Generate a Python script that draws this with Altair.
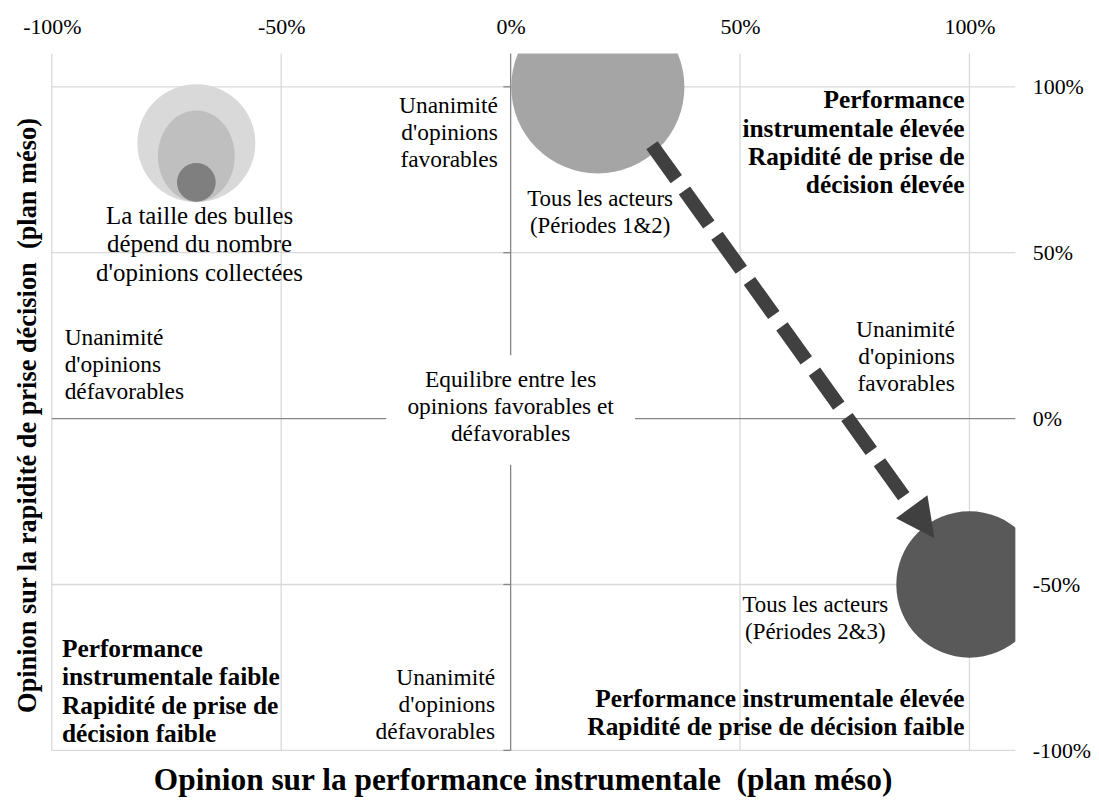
import math
import altair as alt
import pandas as pd

FONT = "Liberation Serif"

# ---------------- data ----------------
axis_ticks = [-100, -50, 0, 50, 100]
grid_values = [-100, -50, 50, 100]
axis_domain = [-100, 110]

bubble_names = ["Tous les acteurs (Périodes 1&2)", "Tous les acteurs (Périodes 2&3)"]
bubble_x = [19, 100]
bubble_y = [100, -50]
bubble_opinions = [140, 100]
bubble_colors = ["#a5a5a5", "#595959"]

legend_x = [-68.5, -68.5, -68.5]
legend_y = [83.0, 79.1, 71.2]
legend_opinions = [65, 39, 7]
legend_colors = ["#d9d9d9", "#bfbfbf", "#7f7f7f"]

zero_v_y = [110, -13.9]
zero_v_y2 = [19.1, -100]
zero_h_x = [-100, 27.1]
zero_h_x2 = [-27.1, 110]
zero_tick_y = [100, 50, -50, -100]

arrow_x = [30.8]
arrow_y = [82.4]
arrow_x2 = [87.3]
arrow_y2 = [-26.5]
arrow_head_x = [89.9]
arrow_head_y = [-31.3]

note_text = [
    "Unanimité\nd'opinions\nfavorables",
    "Tous les acteurs\n(Périodes 1&2)",
    "Unanimité\nd'opinions\ndéfavorables",
    "Equilibre entre les\nopinions favorables et\ndéfavorables",
    "Unanimité\nd'opinions\nfavorables",
    "Tous les acteurs\n(Périodes 2&3)",
    "Unanimité\nd'opinions\ndéfavorables",
    "La taille des bulles\ndépend du nombre\nd'opinions collectées",
    "Performance\ninstrumentale élevée\nRapidité de prise de\ndécision élevée",
    "Performance instrumentale élevée\nRapidité de prise de décision faible",
    "Performance\ninstrumentale faible\nRapidité de prise de\ndécision faible",
]
note_x = [-2.8, 19.5, -97.2, 0, 96.8, 66.4, -3.4, -67.8, 98.9, 98.9, -97.8]
note_y = [97.8, 69.5, 27.8, 15.2, 30.2, -52.9, -74.7, 64.7, 99.5, -80.8, -65.8]
note_align = ["right", "center", "left", "center", "right", "center", "right",
              "center", "right", "right", "left"]
note_style = ["regular", "small", "regular", "regular", "regular", "small", "regular",
              "caption", "bold", "bold", "bold"]

x_title = "Opinion sur la performance instrumentale\u00a0 (plan méso)"
y_title = "Opinion sur la rapidité de prise décision\u00a0 (plan méso)"

# ---------------- styles ----------------
styles = {
    "regular": dict(fontSize=23.5, fontWeight="normal", lineHeight=27),
    "small": dict(fontSize=23, fontWeight="normal", lineHeight=27),
    "caption": dict(fontSize=25, fontWeight="normal", lineHeight=28.5),
    "bold": dict(fontSize=25.5, fontWeight="bold", lineHeight=28.5),
}

pts = []
for i in range(60):
    t = 2 * math.pi * i / 60
    pts.append(f"{0.84 * math.sin(t):.4f},{-math.cos(t):.4f}")
ellipse_path = "M" + "L".join(pts) + "Z"
legend_shapes = ["circle", ellipse_path, "circle"]

xs = alt.Scale(domain=axis_domain, nice=False, zero=False)
ys = alt.Scale(domain=axis_domain, nice=False, zero=False)
size_scale = alt.Scale(type="linear", domain=[0, 140], range=[0, 30276], zero=True)

GRID = "#d9d9d9"
ZERO = "#868686"


def X(field, **kw):
    return alt.X(field, type="quantitative", scale=xs, axis=None, **kw)


def Y(field, **kw):
    return alt.Y(field, type="quantitative", scale=ys, axis=None, **kw)


# grid (with tick label axes)
grid_x = alt.Chart(pd.DataFrame({"x": grid_values})).mark_rule(
    color=GRID, strokeWidth=1.3
).encode(
    x=alt.X("x:Q", scale=xs, axis=alt.Axis(
        orient="top", values=axis_ticks, labelExpr="datum.value + '%'",
        grid=False, ticks=False, tickSize=0, domain=False, title=None,
        labelFont=FONT, labelFontSize=22, labelColor="black", labelPadding=15,
        labelFlush=False, labelOverlap=False)),
)
grid_y = alt.Chart(pd.DataFrame({"y": grid_values})).mark_rule(
    color=GRID, strokeWidth=1.3
).encode(
    y=alt.Y("y:Q", scale=ys, axis=alt.Axis(
        orient="right", values=axis_ticks, labelExpr="datum.value + '%'",
        grid=False, ticks=False, tickSize=0, domain=False, title=None,
        labelFont=FONT, labelFontSize=22, labelColor="black", labelPadding=17,
        labelAlign="left", labelFlush=False, labelOverlap=False)),
)

# zero lines (carry axis titles)
zero_v = alt.Chart(pd.DataFrame({"x": [0, 0], "y": zero_v_y, "y2": zero_v_y2})).mark_rule(
    color=ZERO, strokeWidth=1.3
).encode(
    x=alt.X("x:Q", scale=xs, axis=alt.Axis(
        orient="bottom", labels=False, ticks=False, domain=False, grid=False,
        title=x_title, titleFont=FONT, titleFontSize=31.5, titleFontWeight="bold",
        titleColor="black", titleX=473, titleY=39, titleBaseline="alphabetic",
        titleAlign="center")),
    y=Y("y"), y2="y2",
)
zero_h = alt.Chart(pd.DataFrame({"y": [0, 0], "x": zero_h_x, "x2": zero_h_x2})).mark_rule(
    color=ZERO, strokeWidth=1.3
).encode(
    y=alt.Y("y:Q", scale=ys, axis=alt.Axis(
        orient="left", labels=False, ticks=False, domain=False, grid=False,
        title=y_title, titleFont=FONT, titleFontSize=26.5, titleFontWeight="bold",
        titleColor="black", titleX=-16, titleY=363, titleAngle=270,
        titleBaseline="alphabetic", titleAlign="center")),
    x=X("x"), x2="x2",
)
zero_ticks = alt.Chart(pd.DataFrame({"y": zero_tick_y, "x": [-1.6] * 4, "x2": [0] * 4})).mark_rule(
    color=ZERO, strokeWidth=1.3
).encode(x=X("x"), x2="x2", y=Y("y"))

legend_df = pd.DataFrame({"x": legend_x, "y": legend_y, "opinions": legend_opinions,
                          "color": legend_colors, "shape": legend_shapes, "order": [0, 1, 2]})
legend_bubbles = alt.Chart(legend_df).mark_point(filled=True, opacity=1, strokeWidth=0).encode(
    x=X("x"), y=Y("y"),
    size=alt.Size("opinions:Q", scale=size_scale, legend=None),
    color=alt.Color("color:N", scale=None),
    shape=alt.Shape("shape:N", scale=None),
    order=alt.Order("order:Q"),
)

bubble_df = pd.DataFrame({"name": bubble_names, "x": bubble_x, "y": bubble_y,
                          "opinions": bubble_opinions, "color": bubble_colors})
bubbles = alt.Chart(bubble_df).mark_point(filled=True, opacity=1, strokeWidth=0,
                                          shape="circle", clip=True).encode(
    x=X("x"), y=Y("y"),
    size=alt.Size("opinions:Q", scale=size_scale, legend=None),
    color=alt.Color("color:N", scale=None),
)

notes_df = pd.DataFrame({"text": note_text, "x": note_x, "y": note_y,
                         "align": note_align, "style": note_style})
text_layers = []
for (style, align), sub in notes_df.groupby(["style", "align"]):
    st = styles[style]
    text_layers.append(
        alt.Chart(sub).mark_text(
            font=FONT, fontSize=st["fontSize"], fontWeight=st["fontWeight"],
            lineHeight=st["lineHeight"], lineBreak="\n", align=align,
            baseline="top", color="black",
        ).encode(x=X("x"), y=Y("y"), text="text:N")
    )

arrow = alt.Chart(pd.DataFrame({"x": arrow_x, "y": arrow_y, "x2": arrow_x2, "y2": arrow_y2})).mark_rule(
    color="#404040", strokeWidth=14, strokeDash=[42, 14], strokeCap="butt"
).encode(x=X("x"), y=Y("y"), x2="x2", y2="y2")

arrow_head = alt.Chart(pd.DataFrame({"x": arrow_head_x, "y": arrow_head_y})).mark_point(
    shape="M-1,-1L1,-1L0,1Z", filled=True, opacity=1, strokeWidth=0,
    color="#404040", size=1521, angle=324
).encode(x=X("x"), y=Y("y"))

chart = alt.layer(
    grid_x, grid_y, zero_v, zero_h, zero_ticks, legend_bubbles, bubbles,
    *text_layers, arrow, arrow_head
).resolve_axis(x="independent", y="independent").properties(
    width=968, height=700,
    autosize=alt.AutoSizeParams(type="none"),
    padding={"left": 44, "top": 44, "right": 76, "bottom": 45},
    background="white",
).configure_view(stroke=None)

chart.save("out.html", embed_options={"renderer": "svg", "actions": False})
